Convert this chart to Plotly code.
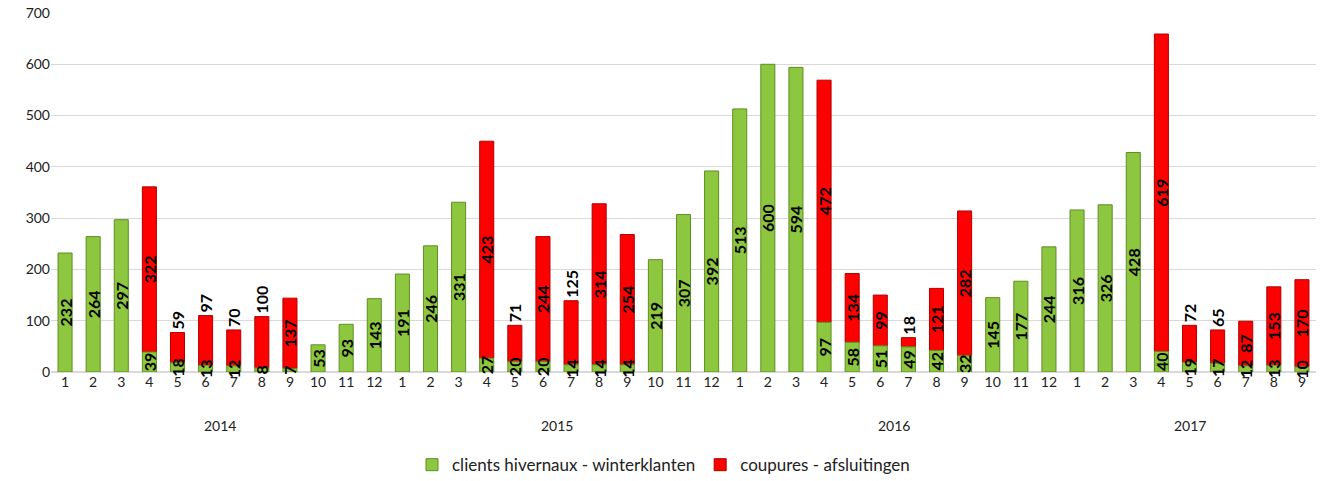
import plotly.graph_objects as go

years = ["2014"] * 12 + ["2015"] * 12 + ["2016"] * 12 + ["2017"] * 9
months = [str(m) for m in range(1, 13)] * 3 + [str(m) for m in range(1, 10)]

clients = [232, 264, 297, 39, 18, 13, 12, 8, 7, 53, 93, 143,
           191, 246, 331, 27, 20, 20, 14, 14, 14, 219, 307, 392,
           513, 600, 594, 97, 58, 51, 49, 42, 32, 145, 177, 244,
           316, 326, 428, 40, 19, 17, 12, 13, 10]
coupures = [None, None, None, 322, 59, 97, 70, 100, 137, None, None, None,
            None, None, None, 423, 71, 244, 125, 314, 254, None, None, None,
            None, None, None, 472, 134, 99, 18, 121, 282, None, None, None,
            None, None, None, 619, 72, 65, 87, 153, 170]

outside_labels = {59, 97, 70, 100, 71, 125, 18, 72, 65}

green = "#8DC63F"
red = "#FF0000"
font_family = "Lato, Open Sans, sans-serif"
lbl_font = dict(family=font_family, size=16, color="black")

xs = list(range(len(months)))
red_pos = ["outside" if (v is not None and v in outside_labels) else "inside" for v in coupures]

fig = go.Figure()
# red segments sit on top of the green ones (base = clients); drawn first so
# that the green labels stay visible on top, as in the original
fig.add_trace(go.Bar(
    x=xs, y=coupures, base=clients, name="coupures - afsluitingen",
    marker=dict(color=red, line=dict(color="#B00000", width=1)),
    text=[f"<b>{v}</b>" if v is not None else "" for v in coupures],
    textposition=red_pos, insidetextanchor="middle", textangle=-90,
    constraintext="none", textfont=lbl_font, cliponaxis=False,
))
fig.add_trace(go.Bar(
    x=xs, y=clients, name="clients hivernaux - winterklanten",
    marker=dict(color=green, line=dict(color="#5E8F22", width=1)),
    text=[f"<b>{v}</b>" for v in clients], textposition="inside",
    insidetextanchor="middle", textangle=-90, constraintext="none",
    textfont=lbl_font, cliponaxis=False,
))

annotations = []
for yr in dict.fromkeys(years):
    idx = [i for i, y in enumerate(years) if y == yr]
    annotations.append(dict(x=sum(idx) / len(idx), y=-0.148, xref="x", yref="paper",
                            text=yr, showarrow=False, yanchor="middle",
                            font=dict(family=font_family, size=14, color="#222")))

fig.update_layout(
    barmode="overlay", bargap=0.5,
    width=1327, height=481,
    margin=dict(l=51, r=11, t=13, b=109, autoexpand=False),
    paper_bgcolor="white", plot_bgcolor="white",
    font=dict(family=font_family, size=14, color="#222"),
    legend=dict(orientation="h", x=0.5, xanchor="center", xref="container",
                y=0.033, yanchor="middle", yref="container",
                font=dict(size=17), traceorder="reversed"),
    annotations=annotations,
)
fig.update_yaxes(range=[0, 700], dtick=100, showgrid=True, gridcolor="#D9D9D9",
                 gridwidth=1, zeroline=True, zerolinecolor="#D9D9D9", showline=False,
                 tickfont=dict(size=14), ticks="", automargin=False)
fig.update_xaxes(tickmode="array", tickvals=xs, ticktext=months, range=[-0.5, len(xs) - 0.5],
                 showline=False, showgrid=False, ticks="", tickfont=dict(size=14),
                 automargin=False)

fig.write_html("out.html", config={"displayModeBar": False},
               post_script="document.body.style.margin='0';")
